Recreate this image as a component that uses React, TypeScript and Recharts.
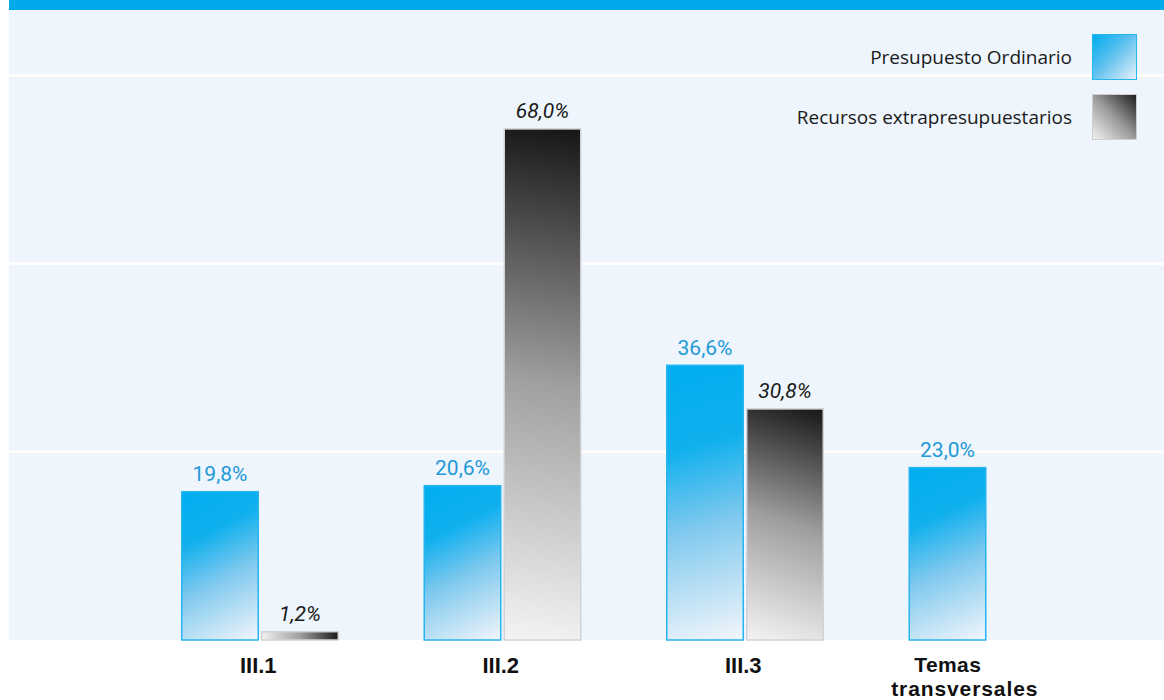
import { Bar, BarChart, CartesianGrid, LabelList, XAxis, YAxis } from "recharts"

const categories = ["III.1", "III.2", "III.3", "Temas transversales"]
const ordinario = [19.8, 20.6, 36.6, 23.0]
const extra: (number | null)[] = [1.2, 68.0, 30.8, null]
const seriesNames = ["Presupuesto Ordinario", "Recursos extrapresupuestarios"]
const gridTicks = [25, 50, 75]

const data = categories.map((name, i) => ({
  name,
  ordinario: ordinario[i],
  extra: extra[i],
}))

const fmt = (v: any) => (v == null ? "" : Number(v).toFixed(1).replace(".", ",") + "%")

const BLUE_STOPS = [
  [0, "#00AEEF"],
  [0.3, "#10B0EE"],
  [0.58, "#80C9EE"],
  [1, "#F3F6FB"],
]
const GREY_STOPS = [
  [0, "#F4F4F4"],
  [0.5, "#A0A0A0"],
  [1, "#151515"],
]

function GradBar(props: any) {
  const { x, y, width, height, index, kind } = props
  if (!height || height <= 0) return null
  const id = `grad-${kind}-${index}`
  const blue = kind === "blue"
  // blue: top-left -> bottom-right, grey: bottom-left (light) -> top-right (dark)
  const coords = blue
    ? { x1: x, y1: y, x2: x + width, y2: y + height }
    : { x1: x, y1: y + height, x2: x + width, y2: y }
  const stops = blue ? BLUE_STOPS : GREY_STOPS
  return (
    <g>
      <defs>
        <linearGradient id={id} gradientUnits="userSpaceOnUse" {...coords}>
          {stops.map(([o, c]) => (
            <stop key={o as number} offset={o as number} stopColor={c as string} />
          ))}
        </linearGradient>
      </defs>
      <rect
        x={x + 0.75}
        y={y + 0.75}
        width={width - 1.5}
        height={height - 0.75}
        fill={`url(#${id})`}
        stroke={blue ? "#27B5EF" : "#D2D2D2"}
        strokeWidth={1.5}
      />
    </g>
  )
}

function CategoryTick(props: any) {
  const { x, y, payload } = props
  const style = { fontFamily: "'Liberation Sans', Arial, sans-serif", fontWeight: 700, fontSize: 21, fill: "#111" }
  const words = String(payload.value).split(" ")
  if (words.length === 1) {
    return (
      <text x={x - 2} y={y + 33} textAnchor="middle" {...style} fontSize={22}>
        {payload.value}
      </text>
    )
  }
  // two-line label, lines sit a little left of the category centre like the original
  return (
    <g>
      <text x={x - 40} y={y + 32} textAnchor="middle" {...style} letterSpacing={0.4}>
        {words[0]}
      </text>
      <text x={x - 23} y={y + 56} textAnchor="middle" {...style} letterSpacing={0.9}>
        {words.slice(1).join(" ")}
      </text>
    </g>
  )
}

function LegendBox() {
  const swatches = [
    { background: "linear-gradient(to bottom right, #00AEEF 0%, #5CC0EE 45%, #E6F1FA 100%)", border: "1.5px solid #27B5EF" },
    { background: "linear-gradient(to top right, #F2F2F2 0%, #9A9A9A 50%, #1E1E1E 100%)", border: "1.5px solid #CFCFCF" },
  ]
  return (
    <div
      style={{
        position: "absolute",
        top: 34,
        right: 27,
        display: "flex",
        flexDirection: "column",
        gap: 14,
        fontFamily: "'Open Sans', sans-serif",
        fontSize: 19,
        color: "#1a1a1a",
      }}
    >
      {seriesNames.map((name, i) => (
        <div key={name} style={{ display: "flex", alignItems: "center", justifyContent: "flex-end", gap: 20 }}>
          <span>{name}</span>
          <div style={{ width: 43, height: 44, boxSizing: "content-box", ...swatches[i] }} />
        </div>
      ))}
    </div>
  )
}

export default function App() {
  return (
    <div style={{ position: "absolute", left: 9, top: 0, width: 1155, height: 700, background: "#fff" }}>
      <BarChart
        width={1155}
        height={700}
        data={data}
        margin={{ top: 10, right: 0, bottom: 0, left: 0 }}
        barSize={78}
        barGap={2}
      >
        <CartesianGrid
          vertical={false}
          horizontalValues={gridTicks}
          stroke="#FFFFFF"
          strokeWidth={3}
          fill="#EEF5FC"
          fillOpacity={1}
        />
        <XAxis
          dataKey="name"
          axisLine={false}
          tickLine={false}
          tickSize={0}
          tickMargin={0}
          height={60}
          padding={{ left: 130, right: 55 }}
          tick={<CategoryTick />}
          interval={0}
        />
        <YAxis hide domain={[0, 83.7]} ticks={gridTicks} />
        <Bar
          dataKey="ordinario"
          name={seriesNames[0]}
          fill="#00AEEF"
          isAnimationActive={false}
          shape={(p: any) => <GradBar {...p} kind="blue" />}
        >
          <LabelList
            dataKey="ordinario"
            position="top"
            offset={10}
            formatter={fmt}
            fill="#2399D6"
            fontSize={21}
            fontFamily="Roboto, sans-serif"
          />
        </Bar>
        <Bar
          dataKey="extra"
          name={seriesNames[1]}
          fill="#555555"
          isAnimationActive={false}
          shape={(p: any) => <GradBar {...p} kind="grey" />}
        >
          <LabelList
            dataKey="extra"
            position="top"
            offset={10}
            formatter={fmt}
            fill="#1a1a1a"
            fontSize={21}
            fontStyle="italic"
            fontFamily="Roboto, sans-serif"
          />
        </Bar>
      </BarChart>
      <div style={{ position: "absolute", left: 0, top: 0, width: 1155, height: 10, background: "#00AAEB" }} />
      <LegendBox />
    </div>
  )
}
